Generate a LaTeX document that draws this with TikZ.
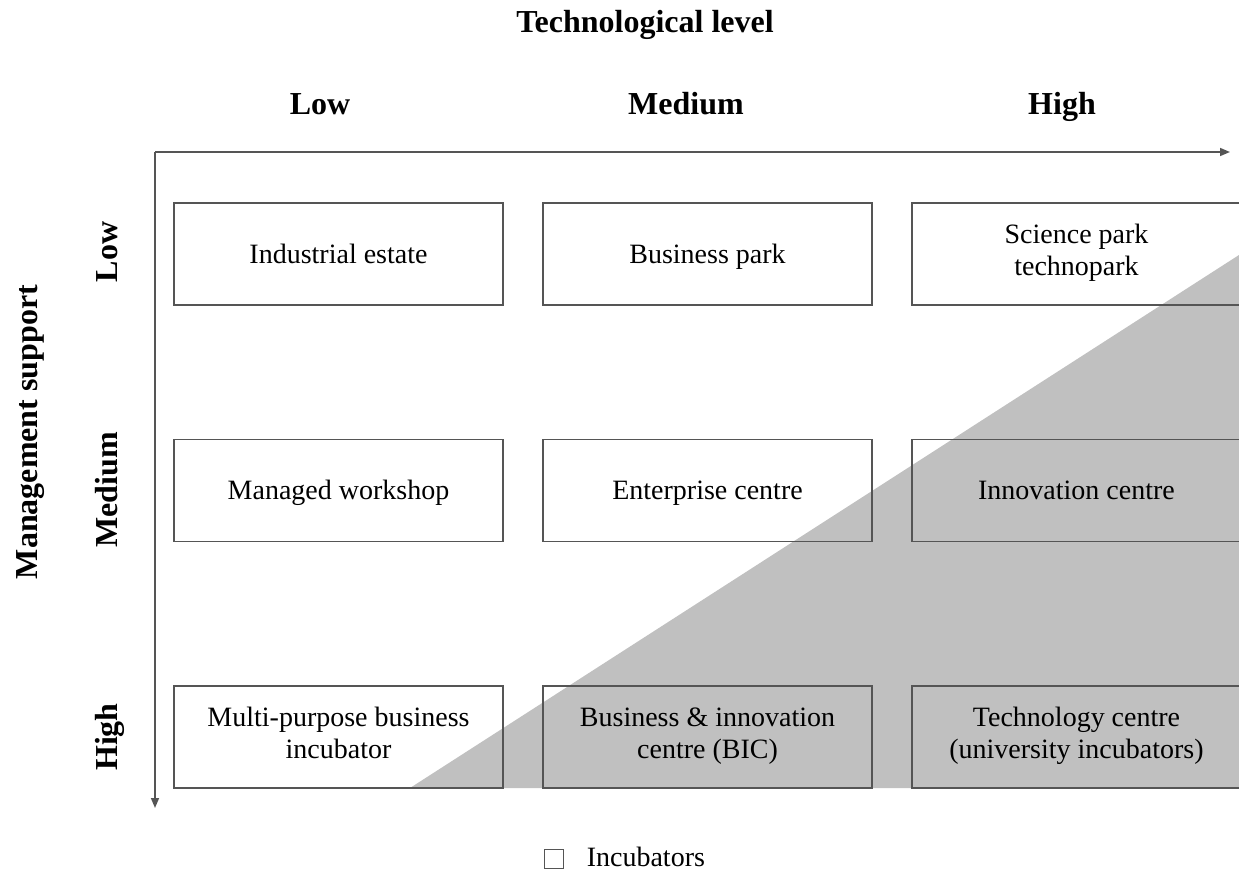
\documentclass[tikz,border=0pt]{standalone}
\usepackage{fontspec}
\setmainfont{Liberation Serif}
\usetikzlibrary{arrows.meta}

\definecolor{edgegrey}{RGB}{85,85,85}
\definecolor{zonegrey}{RGB}{192,192,192}

\newcommand{\cellstrut}{\rule[-8pt]{0pt}{34pt}}

\tikzset{every picture/.style={line width=1.6pt}}
\tikzset{
  cell/.style={draw=edgegrey, minimum width=329pt, minimum height=102pt, inner sep=0pt, align=center,
    font=\fontsize{28}{32}\selectfont, execute at begin node=\cellstrut, execute at end node=\cellstrut},
  head/.style={anchor=base, inner sep=0pt, font=\fontsize{32}{36}\selectfont\bfseries},
  axis/.style={draw=edgegrey, -{Triangle[length=10pt,width=8pt]}}
}

\begin{document}
\begin{tikzpicture}[x=1pt,y=-1pt]
	\useasboundingbox (0,0) rectangle (1239,872);
	
	%Shape: Triangle (incubator zone)
	\fill [zonegrey] (410,788) -- (1239,788) -- (1239,255) -- cycle ;
	
	%Straight Lines (axes)
	\coordinate (orig) at (155,152);
	\coordinate (xend) at (1230,152);
	\coordinate (yend) at (155,808);
	\draw [axis] (orig) -- (xend) ;
	\draw [axis] (orig) -- (yend) ;
	
	% Text Node
	\node [head] (title) at (645,33) {Technological level};
	% Text Node
	\node [head] (techlow) at (320,115) {Low};
	% Text Node
	\node [head] (techmed) at (686,115) {Medium};
	% Text Node
	\node [head] (techhigh) at (1062,115) {High};
	% Text Node
	\node [head, rotate=90] (mgmt) at (37,432) {Management support};
	% Text Node
	\node [head, rotate=90] (mgmtlow) at (117,252) {Low};
	% Text Node
	\node [head, rotate=90] (mgmtmed) at (117,490) {Medium};
	% Text Node
	\node [head, rotate=90] (mgmthigh) at (117,737) {High};
	
	%Shape: Rectangle (low support)
	\node [cell] (estate) at (338.5,254) {Industrial estate};
	\node [cell] (bpark) at (707.5,254) {Business park};
	\node [cell] (spark) at (1076.5,254) {Science park\\technopark};
	%Shape: Rectangle (medium support)
	\node [cell] (workshop) at (338.5,490.5) {Managed workshop};
	\node [cell] (enterprise) at (707.5,490.5) {Enterprise centre};
	\node [cell] (innovation) at (1076.5,490.5) {Innovation centre};
	%Shape: Rectangle (high support)
	\node [cell] (multi) at (338.5,737) {Multi-purpose business\\incubator};
	\node [cell] (bic) at (707.5,737) {Business \& innovation\\centre (BIC)};
	\node [cell] (techcentre) at (1076.5,737) {Technology centre\\(university incubators)};
	
	% Legend
	\node [draw=edgegrey, fill=white, line width=1.2pt, minimum size=19pt, inner sep=0pt] (key) at (554,859) {};
	\node [anchor=west, inner sep=0pt, font=\fontsize{28}{32}\selectfont] (keytext) at (586,857) {Incubators};
	
\end{tikzpicture}
\end{document}
